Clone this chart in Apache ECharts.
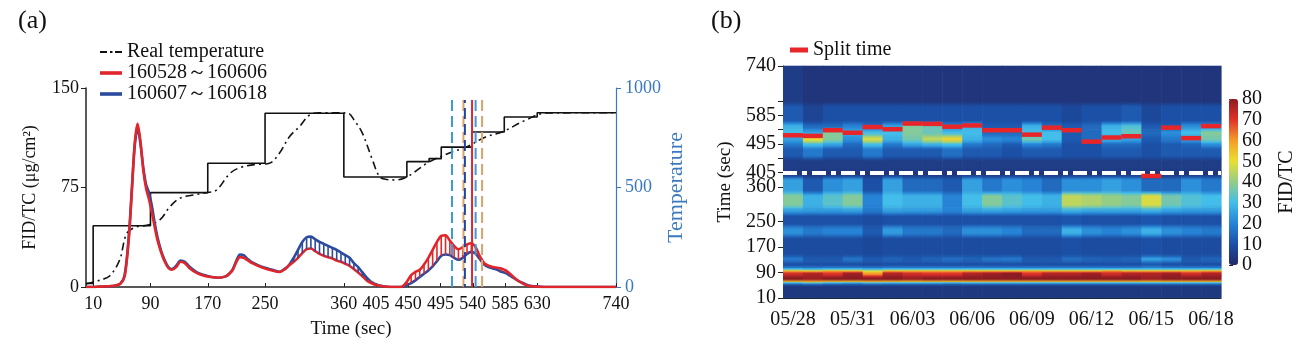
<!DOCTYPE html>
<html>
<head>
<meta charset="utf-8">
<script src="https://cdn.jsdelivr.net/npm/echarts@6/dist/echarts.min.js"></script>
<style>
  html, body { margin: 0; padding: 0; background: #fff; }
  #chart { width: 1298px; height: 353px; }
</style>
</head>
<body>
<div id="chart"></div>
<script>
// ---------- panel (a) data ----------
const timeTicks = [10, 90, 170, 250, 360, 405, 450, 495, 540, 585, 630, 740];

const fidTime = [0, 10, 20, 30, 40, 48, 54, 60, 64, 68, 72, 76, 80, 84, 88, 92, 96, 100, 105, 110,
  115, 120, 126, 132, 138, 145, 155, 165, 175, 185, 195, 200, 205, 210, 215, 220, 226, 232, 240, 250,
  260, 270, 278, 284, 290, 296, 302, 308, 314, 320, 326, 332, 338, 344, 350, 356, 362, 368, 374, 380,
  386, 392, 398, 405, 415, 425, 435, 442, 448, 454, 460, 466, 472, 478, 484, 490, 496, 502, 508, 514,
  520, 526, 532, 538, 544, 550, 556, 562, 568, 574, 580, 586, 592, 598, 604, 610, 616, 622, 630, 640,
  660, 700, 740];
const fidRed = [0, 0, 0.3, 0.5, 1, 2.5, 8, 38, 72, 108, 123, 110, 88, 74, 66, 56, 45, 35, 26, 19,
  14.5, 13, 15, 19, 18, 14, 10.5, 8.5, 7.5, 7, 8, 10, 13, 19, 22.5, 22, 20, 18, 16, 14,
  12.5, 11.3, 13.5, 16.5, 19, 22, 25.5, 28.5, 29, 27, 25, 23.5, 22.5, 21.5, 20, 19, 17.5, 16, 13.5, 11,
  8, 5, 3, 1.5, 0.5, 0, 0, 0.5, 4, 9, 11.5, 13, 17, 22, 28, 34, 38.5, 39, 35, 31,
  28.5, 30, 32, 33, 30, 23, 18, 16, 15, 14.5, 14, 12.5, 10, 7, 4.5, 2.5, 1.2, 0.6, 0.3, 0,
  0, 0, 0];
const fidBlue = [0, 0, 0.3, 0.5, 1, 2.5, 9, 40, 74, 106, 120, 108, 90, 77, 71, 61, 48, 37, 27, 20,
  15, 13.5, 16, 20, 19, 15, 11, 9, 7.5, 7, 8, 10, 13.5, 20, 24.5, 24, 21, 18.5, 16.5, 14.5,
  13, 11.5, 14, 17, 22, 28, 34, 37.5, 38, 36, 34, 32.5, 31, 29.5, 28, 26, 24, 22, 18, 15,
  11, 7, 4, 2, 0.5, 0, 0, 0, 1.5, 3, 5, 7.5, 10, 12.5, 15.5, 19.5, 23.5, 24.5, 24, 22,
  20.5, 22, 25, 26.5, 25, 21, 17, 15, 14, 13, 11.5, 10.5, 8.5, 6.5, 4.5, 3, 1.5, 0.8, 0.3, 0,
  0, 0, 0];

const tempTime = [0, 20, 33, 47, 57, 71, 85, 103, 117, 131, 150, 168, 182, 201, 215, 235, 256, 270, 284, 298,
  312, 326, 365, 376, 386, 400, 410, 420, 432, 445, 456, 479, 511, 531, 558, 581, 614, 642, 740];
const tempReal = [15, 35, 55, 136, 270, 303, 310, 337, 403, 446, 462, 474, 487, 571, 600, 615, 622, 672, 755, 806,
  864, 876, 874, 830, 772, 638, 554, 540, 538, 548, 571, 628, 678, 703, 754, 779, 839, 874, 876];

const stepTime = [0, 10, 90, 170, 250, 360, 448, 479, 496, 539, 584, 630, 740];
const stepTemp = [18, 308, 474, 622, 873, 553, 630, 645, 703, 779, 854, 876, 876];

// split marks (sec) and their top (FID/TC units)
const splitMarks = [511, 527, 529, 539, 544, 553];
const splitMarkTop = 141;

// ---------- panel (b) data ----------
const days = ['05/28', '05/29', '05/30', '05/31', '06/01', '06/02', '06/03', '06/04', '06/05', '06/06', '06/07',
  '06/08', '06/09', '06/10', '06/11', '06/12', '06/13', '06/14', '06/15', '06/16', '06/17', '06/18'];
const heatTickValues = [10, 90, 170, 250, 360, 405, 450, 495, 540, 585, 630, 740];
const heatLabelValues = [10, 90, 170, 250, 360, 405, 495, 585, 740];
const bandEdges = [10, 55, 61, 80, 92, 98, 105, 125, 140, 205, 235, 275, 295, 340, 390, 410, 450, 485, 500, 520, 540, 560, 620, 740];
const heatRows = [
  [4, 4, 4, 4, 4, 4, 4, 4, 4, 4, 4, 4, 4, 4, 4, 4, 4, 4, 4, 4, 4, 4],
  [30, 35, 30, 28, 32, 30, 30, 30, 28, 30, 30, 30, 30, 30, 30, 30, 30, 30, 30, 30, 30, 30],
  [80, 78, 80, 80, 80, 80, 78, 80, 80, 80, 80, 80, 80, 80, 80, 80, 80, 80, 78, 80, 80, 80],
  [72, 76, 70, 78, 60, 76, 72, 70, 70, 76, 78, 80, 70, 76, 76, 78, 72, 76, 76, 78, 72, 76],
  [58, 55, 60, 58, 48, 58, 58, 58, 58, 58, 58, 58, 60, 58, 58, 58, 62, 58, 58, 58, 58, 60],
  [30, 28, 30, 30, 28, 30, 30, 30, 30, 30, 30, 30, 30, 30, 30, 30, 30, 30, 30, 30, 30, 30],
  [10, 10, 10, 10, 9, 10, 10, 10, 10, 10, 10, 10, 10, 10, 10, 10, 10, 10, 12, 10, 10, 10],
  [18, 12, 12, 17, 12, 14, 12, 14, 16, 14, 17, 18, 12, 12, 16, 14, 13, 14, 25, 22, 12, 14],
  [9, 9, 9, 9, 8, 9, 9, 9, 9, 9, 9, 9, 9, 9, 10, 9, 9, 9, 10, 9, 9, 9],
  [22, 18, 20, 20, 12, 24, 18, 18, 15, 22, 22, 20, 15, 15, 28, 22, 20, 22, 28, 22, 20, 18],
  [10, 10, 10, 10, 9, 10, 10, 10, 10, 10, 10, 10, 10, 10, 11, 10, 10, 10, 11, 10, 10, 10],
  [25, 24, 24, 25, 18, 25, 24, 24, 20, 25, 26, 25, 24, 24, 28, 26, 26, 26, 28, 25, 24, 24],
  [38, 28, 33, 38, 20, 30, 28, 28, 20, 30, 38, 33, 30, 28, 45, 43, 40, 38, 48, 36, 32, 30],
  [25, 12, 22, 25, 10, 25, 15, 15, 12, 25, 18, 22, 20, 15, 22, 22, 25, 22, 15, 15, 22, 18],
  [3, 3, 3, 3, 3, 3, 3, 3, 3, 3, 3, 3, 3, 3, 3, 3, 3, 3, 3, 3, 3, 3],
  [5, 5, 5, 5, 5, 5, 5, 5, 5, 5, 5, 5, 5, 5, 5, 5, 5, 5, 5, 5, 5, 5],
  [12, 18, 12, 12, 18, 12, 12, 12, 16, 12, 12, 10, 12, 12, 10, 10, 12, 12, 10, 12, 12, 12],
  [18, 30, 25, 15, 30, 18, 25, 28, 30, 18, 15, 12, 20, 18, 10, 10, 15, 15, 10, 12, 14, 22],
  [25, 50, 38, 22, 48, 28, 36, 45, 52, 28, 22, 20, 36, 30, 12, 15, 28, 25, 12, 18, 25, 36],
  [30, 25, 38, 27, 30, 30, 38, 35, 30, 30, 15, 15, 30, 30, 12, 15, 30, 35, 15, 22, 30, 38],
  [28, 15, 15, 20, 15, 25, 38, 35, 20, 28, 12, 12, 28, 15, 12, 15, 28, 32, 12, 12, 22, 22],
  [12, 7, 10, 10, 10, 10, 10, 10, 10, 10, 10, 10, 10, 10, 8, 10, 10, 12, 8, 10, 10, 10],
  [5, 3, 3, 3, 3, 3, 3, 3, 3, 3, 3, 3, 3, 3, 3, 3, 3, 3, 3, 3, 3, 3]
];
const splitTimes = [522, 520, 538, 530, 548, 541, 559, 558, 549, 553, 538, 538, 524, 546, 538, 502, 515, 519, 394, 546, 513, 551];
const whiteLineTime = 405;

// ---------- styles ----------
const SERIF = 'Liberation Serif';
const RED = '#e1262b';
const BLUE = '#2c4b9e';
const TEMP_BLUE = '#3b79bf';
const markColors = ['#3d9ad8', '#d9a46c', '#2444a0', '#e1262b', '#3d9ad8', '#d9a46c'];
const markDash = [[11, 5], [11, 5], [11, 5], 'solid', [11, 5], [11, 5]];
const heatColors = ['#222a68', '#1b50a6', '#2683d6', '#43bde9', '#94cd86', '#e9df33', '#f39d28', '#e2312a', '#8a1b22'];
const HEAT_MAX = 80;

const chart = echarts.init(document.getElementById('chart'));

const hatchData = fidTime
  .map((t, i) => [t, fidRed[i], fidBlue[i]])
  .filter(d => d[0] >= 280 && Math.abs(d[1] - d[2]) >= 2);

const heatData = [];
heatRows.forEach((row, i) => {
  row.forEach((v, j) => heatData.push([j, bandEdges[i], bandEdges[i + 1], v, i]));
});

// colour of a value on the same scale as the visualMap
const heatColor = v => echarts.color.lerp(Math.max(0, Math.min(1, v / HEAT_MAX)), heatColors);

const markSeries = splitMarks.map((t, k) => ({
  type: 'line',
  xAxisIndex: 0,
  yAxisIndex: 0,
  data: [[t, 0], [t, splitMarkTop]],
  symbol: 'none',
  silent: true,
  z: 6,
  lineStyle: { color: markColors[k], width: 2, type: markDash[k], dashOffset: k === 2 ? 8 : 0 }
}));

const labelFont = { fontFamily: SERIF, color: '#111' };

const series = [
  {
    name: 'Real temperature', type: 'line', xAxisIndex: 0, yAxisIndex: 1,
    data: tempTime.map((t, i) => [t, tempReal[i]]),
    smooth: 0.35, symbol: 'none', z: 2,
    lineStyle: { color: '#111', width: 1.6, type: [8, 4, 2, 4] },
    itemStyle: { color: '#111' }
  },
  {
    name: 'step', type: 'line', xAxisIndex: 0, yAxisIndex: 1,
    data: stepTime.map((t, i) => [t, stepTemp[i]]),
    step: 'end', symbol: 'none', z: 2,
    lineStyle: { color: '#111', width: 1.6 }
  },
  {
    name: '160607～160618', type: 'line', xAxisIndex: 0, yAxisIndex: 0,
    data: fidTime.map((t, i) => [t, fidBlue[i]]),
    smooth: 0.3, symbol: 'none', z: 3,
    lineStyle: { color: BLUE, width: 2.6 },
    itemStyle: { color: BLUE }
  },
  ...markSeries,
  {
    name: '160528～160606', type: 'line', xAxisIndex: 0, yAxisIndex: 0,
    data: fidTime.map((t, i) => [t, fidRed[i]]),
    smooth: 0.3, symbol: 'none', z: 4,
    lineStyle: { color: RED, width: 2.6 },
    itemStyle: { color: RED }
  },
  {
    name: 'hatch', type: 'custom', xAxisIndex: 0, yAxisIndex: 0,
    data: hatchData, encode: { x: 0, y: [1, 2] }, z: 5, silent: true,
    renderItem: (params, api) => {
      const t = api.value(0), r = api.value(1), b = api.value(2);
      const p1 = api.coord([t, r]);
      const p2 = api.coord([t, b]);
      return {
        type: 'line',
        shape: { x1: p1[0], y1: p1[1], x2: p2[0], y2: p2[1] },
        style: { stroke: r > b ? RED : BLUE, lineWidth: 1.6 }
      };
    }
  },
  {
    name: 'heat', type: 'custom', xAxisIndex: 1, yAxisIndex: 2,
    data: heatData, dimensions: ['day', 't0', 't1', 'v', 'band'],
    encode: { x: 0, y: [1, 2] }, z: 1, silent: true,
    renderItem: (params, api) => {
      const j = api.value(0);
      const band = api.value(4);
      const v = api.value(3);
      const top = api.coord([j, api.value(2)]);
      const bottom = api.coord([j, api.value(1)]);
      const w = api.size([1, 0])[0];
      // soften band edges towards the neighbouring bands
      const above = band < heatRows.length - 1 ? heatRows[band + 1][j] : v;
      const below = band > 0 ? heatRows[band - 1][j] : v;
      const h = bottom[1] - top[1];
      const edge = Math.min(0.45, 3 / Math.max(h, 1));
      return {
        type: 'rect',
        shape: { x: top[0] - w / 2, y: top[1] - 0.3, width: w + 0.6, height: h + 0.6 },
        style: {
          fill: new echarts.graphic.LinearGradient(0, 0, 0, 1, [
            { offset: 0, color: heatColor((v + above) / 2) },
            { offset: edge, color: heatColor(v) },
            { offset: 1 - edge, color: heatColor(v) },
            { offset: 1, color: heatColor((v + below) / 2) }
          ])
        }
      };
    },
    markLine: {
      silent: true, symbol: 'none', label: { show: false },
      lineStyle: { color: '#fff', width: 4, type: [14, 5, 5, 5], opacity: 1 },
      data: [{ yAxis: whiteLineTime }]
    }
  },
  {
    name: 'Split time', type: 'scatter', xAxisIndex: 1, yAxisIndex: 2,
    data: splitTimes.map((t, j) => [j, t]),
    symbol: 'rect', symbolSize: [20, 4.5], z: 6,
    itemStyle: { color: '#e8262a', opacity: 1 }
  }
];
const heatIndex = series.findIndex(s => s.name === 'heat');

const option = {
  animation: false,
  textStyle: { fontFamily: SERIF },
  graphic: [
    { type: 'text', left: 18, top: 8, style: { text: '(a)', font: '26px "Liberation Serif"', fill: '#111' } },
    { type: 'text', left: 711, top: 8, style: { text: '(b)', font: '26px "Liberation Serif"', fill: '#111' } }
  ],
  legend: [
    {
      orient: 'vertical',
      left: 100,
      top: 42,
      itemGap: 1,
      itemWidth: 22,
      itemHeight: 14,
      padding: 0,
      textStyle: { fontFamily: SERIF, fontSize: 20, color: '#111', lineHeight: 20 },
      data: [
        { name: 'Real temperature', icon: 'path://M0,0h7v2h-7z M10,0h2.5v2h-2.5z M15,0h7v2h-7z' },
        { name: '160528～160606', icon: 'path://M0,0h22v3.6h-22z' },
        { name: '160607～160618', icon: 'path://M0,0h22v3.6h-22z' }
      ]
    },
    {
      left: 790,
      top: 40,
      padding: 0,
      itemWidth: 18,
      itemHeight: 5,
      textStyle: { fontFamily: SERIF, fontSize: 20, color: '#111' },
      data: [{ name: 'Split time', icon: 'rect' }]
    }
  ],
  visualMap: {
    type: 'continuous',
    seriesIndex: heatIndex,
    dimension: 3,
    min: 0,
    max: HEAT_MAX,
    left: 1229,
    top: 99,
    padding: 0,
    itemWidth: 9,
    itemHeight: 166,
    calculable: false,
    inRange: { color: heatColors }
  },
  grid: [
    { left: 86, top: 88, width: 530, height: 199 },
    { left: 783, top: 66, width: 438, height: 232 },
    { left: 1229, top: 99, width: 9, height: 166 }
  ],
  xAxis: [
    {
      gridIndex: 0, type: 'value', min: 0, max: 740,
      name: 'Time (sec)', nameLocation: 'middle', nameGap: 33,
      nameTextStyle: { fontFamily: SERIF, fontSize: 19, color: '#111' },
      axisLine: { lineStyle: { color: '#222', width: 1.5 } },
      axisTick: { inside: true, length: 4, customValues: timeTicks, lineStyle: { color: '#222' } },
      axisLabel: { ...labelFont, fontSize: 18, margin: 8, customValues: timeTicks },
      splitLine: { show: false }
    },
    {
      gridIndex: 1, type: 'category', data: days, boundaryGap: true,
      axisLine: { lineStyle: { color: '#222', width: 1 } },
      axisTick: { alignWithLabel: true, interval: 0, length: 5, lineStyle: { color: '#222' } },
      axisLabel: { ...labelFont, fontSize: 20, margin: 12, interval: 2 },
      splitLine: { show: false }
    },
    { gridIndex: 2, type: 'value', show: false, min: 0, max: 1 }
  ],
  yAxis: [
    {
      gridIndex: 0, type: 'value', min: 0, max: 150, interval: 75,
      name: 'FID/TC (μg/cm²)', nameLocation: 'middle', nameGap: 47,
      nameTextStyle: { fontFamily: SERIF, fontSize: 18, color: '#111' },
      axisLine: { show: true, lineStyle: { color: '#222', width: 1.5 } },
      axisTick: { show: true, length: 5, lineStyle: { color: '#222' } },
      axisLabel: { ...labelFont, fontSize: 18, margin: 7 },
      splitLine: { show: false }
    },
    {
      gridIndex: 0, type: 'value', position: 'right', min: 0, max: 1000, interval: 500,
      name: 'Temperature', nameLocation: 'middle', nameGap: 47,
      nameTextStyle: { fontFamily: SERIF, fontSize: 22, color: TEMP_BLUE },
      axisLine: { show: true, lineStyle: { color: TEMP_BLUE, width: 1.2 } },
      axisTick: { show: true, length: 5, lineStyle: { color: TEMP_BLUE } },
      axisLabel: { fontFamily: SERIF, fontSize: 18, color: TEMP_BLUE, margin: 9, formatter: v => String(v) },
      splitLine: { show: false }
    },
    {
      gridIndex: 1, type: 'value', min: 10, max: 740,
      name: 'Time (sec)', nameLocation: 'middle', nameGap: 48,
      nameTextStyle: { fontFamily: SERIF, fontSize: 19, color: '#111' },
      axisLine: { show: true, lineStyle: { color: '#222', width: 1 } },
      axisTick: { show: true, length: 5, customValues: heatTickValues, lineStyle: { color: '#222' } },
      axisLabel: { ...labelFont, fontSize: 20, margin: 7, customValues: heatLabelValues },
      splitLine: { show: false }
    },
    {
      gridIndex: 2, type: 'value', position: 'right', min: 0, max: 80, interval: 10,
      name: 'FID/TC', nameLocation: 'middle', nameGap: 40,
      nameTextStyle: { fontFamily: SERIF, fontSize: 20, color: '#111' },
      axisLine: { show: false },
      axisTick: { show: true, length: 4, lineStyle: { color: '#222' } },
      axisLabel: { ...labelFont, fontSize: 20, margin: 5 },
      splitLine: { show: false }
    }
  ],
  series: series
};

chart.setOption(option);
</script>
</body>
</html>
